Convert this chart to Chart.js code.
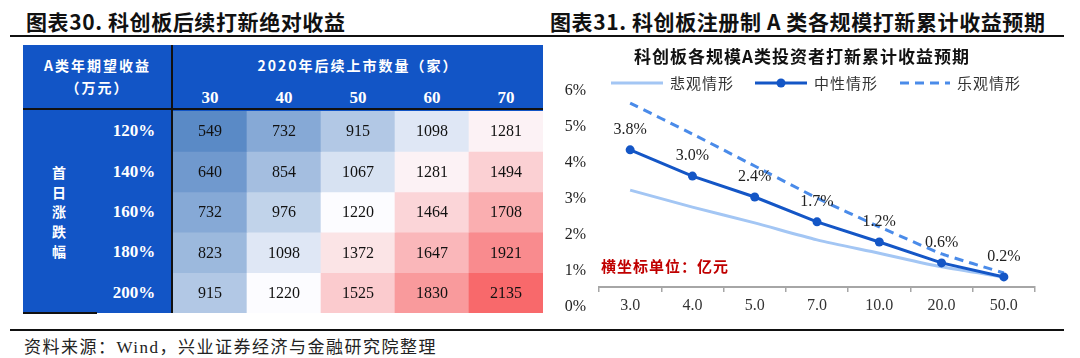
<!DOCTYPE html>
<html>
<head>
<meta charset="utf-8">
<script src="https://cdn.jsdelivr.net/npm/chart.js@4/dist/chart.umd.min.js"></script>
<style>
  body { margin: 0; background: #fff; }
  #page { position: relative; width: 1080px; height: 358px; overflow: hidden; background: #fff;
          font-family: "Liberation Serif", "Noto Sans CJK SC", serif; color: #222; }
  .abs { position: absolute; white-space: nowrap; }
  .title { font-family: "Noto Sans CJK SC", sans-serif; font-weight: 700; font-size: 21px; color: #111; top: 6px; letter-spacing: 0.6px; }
  .rule { position: absolute; left: 10px; width: 1054px; height: 2px; background: #111; }
  .blk { position: absolute; background: #111; }
  .hdr { color: #fff; font-family: "Noto Sans CJK SC", sans-serif; font-weight: 700; font-size: 14px; letter-spacing: 2px; text-align: center; }
  .num { color: #fff; font-family: "Liberation Serif", serif; font-weight: 700; font-size: 17px; transform: translate(-50%, -50%); }
  #foot { left: 24px; top: 333px; font-size: 17px; letter-spacing: 1.5px; color: #222; }
</style>
</head>
<body>
<div id="page">
  <div class="abs title" style="left:26px">图表30. 科创板后续打新绝对收益</div>
  <div class="abs title" style="left:550px">图表31. 科创板注册制 A 类各规模打新累计收益预期</div>
  <div class="rule" style="top:35px"></div>

  <div class="abs" style="left:23px;top:45px;width:520px;height:268px;background:#1255C6"></div>
  <div class="abs hdr" style="left:23px;top:54px;width:149px;line-height:22px">A类年期望收益<br>（万元）</div>
  <div class="abs hdr" style="left:173px;top:54px;width:370px;line-height:22px">2020年后续上市数量（家）</div>
  <div id="colHead"></div>
  <div id="rowHead"></div>
  <div class="abs hdr" style="left:48px;top:163px;width:22px;line-height:19.7px;letter-spacing:0">首<br>日<br>涨<br>跌<br>幅</div>
  <canvas id="heat" class="abs" width="370" height="202" style="left:173px;top:111px"></canvas>
  <div class="blk" style="left:23px;top:108px;width:520px;height:2px"></div>
  <div class="blk" style="left:171px;top:45px;width:2px;height:268px"></div>
  <div class="blk" style="left:23px;top:312px;width:74px;height:2px"></div>

  <canvas id="lines" class="abs" width="535" height="330" style="left:545px;top:0px"></canvas>

  <div class="rule" style="top:329px"></div>
  <div id="foot" class="abs">资料来源：Wind，兴业证券经济与金融研究院整理</div>
</div>
<script>
// 图表30：首日涨跌幅 x 2020年后续上市数量
const listings = ['30', '40', '50', '60', '70'];
const firstDayRise = ['120%', '140%', '160%', '180%', '200%'];
const row120 = [549, 732, 915, 1098, 1281];
const row140 = [640, 854, 1067, 1281, 1494];
const row160 = [732, 976, 1220, 1464, 1708];
const row180 = [823, 1098, 1372, 1647, 1921];
const row200 = [915, 1220, 1525, 1830, 2135];
const rows = [row120, row140, row160, row180, row200];

// 图表31：各规模A类投资者打新累计收益预期
const sizes = ['3.0', '4.0', '5.0', '7.0', '10.0', '20.0', '50.0'];
const seriesNames = ['悲观情形', '中性情形', '乐观情形'];
const pessimistic = [2.69, 2.22, 1.78, 1.31, 0.94, 0.56, 0.28];
const neutral = [3.81, 3.08, 2.50, 1.81, 1.25, 0.67, 0.28];
const optimistic = [5.11, 4.25, 3.36, 2.47, 1.67, 0.92, 0.39];
const neutralLabels = ['3.8%', '3.0%', '2.4%', '1.7%', '1.2%', '0.6%', '0.2%'];

// header text for the table
const colHead = document.getElementById('colHead');
listings.forEach((t, i) => {
  const d = document.createElement('div');
  d.className = 'abs num';
  d.style.left = (173 + 37 + i * 74) + 'px';
  d.style.top = '98px';
  d.textContent = t;
  colHead.append(d);
});
const rowHead = document.getElementById('rowHead');
firstDayRise.forEach((t, i) => {
  const d = document.createElement('div');
  d.className = 'abs num';
  d.style.left = '134px';
  d.style.top = (111 + 20.2 + i * 40.4) + 'px';
  d.textContent = t;
  rowHead.append(d);
});

// excel style 3-colour scale: blue - white (median) - red
const all = rows.flat().slice().sort((a, b) => a - b);
const vMin = all[0], vMax = all[all.length - 1], vMid = all[Math.floor(all.length / 2)];
const blue = [90, 138, 198], white = [252, 252, 255], red = [248, 105, 107];
function mix(a, b, t) {
  return 'rgb(' + a.map((c, k) => Math.round(c + (b[k] - c) * t)).join(',') + ')';
}
function cellColor(v) {
  if (v <= vMid) return mix(blue, white, (v - vMin) / (vMid - vMin));
  return mix(white, red, (v - vMid) / (vMax - vMid));
}

const cellText = {
  id: 'cellText',
  afterDatasetsDraw(chart) {
    const ctx = chart.ctx;
    ctx.save();
    ctx.font = '16px "Liberation Serif"';
    ctx.fillStyle = '#111';
    ctx.textAlign = 'center';
    ctx.textBaseline = 'middle';
    chart.data.datasets.forEach((ds, di) => {
      chart.getDatasetMeta(di).data.forEach((el, i) => {
        ctx.fillText(String(rows[di][i]), el.x, (el.y + el.base) / 2 + 1);
      });
    });
    ctx.restore();
  }
};

new Chart(document.getElementById('heat'), {
  type: 'bar',
  data: {
    labels: listings,
    datasets: rows.map((vals, r) => ({
      label: firstDayRise[r],
      data: vals.map(() => [r, r + 1]),
      backgroundColor: vals.map(cellColor),
      borderWidth: 0,
      grouped: false,
      barPercentage: 1,
      categoryPercentage: 1
    }))
  },
  options: {
    responsive: false,
    animation: false,
    devicePixelRatio: 1,
    layout: { padding: 0 },
    plugins: { legend: { display: false }, tooltip: { enabled: false } },
    scales: {
      x: { display: false },
      y: { display: false, min: 0, max: 5, reverse: true }
    }
  },
  plugins: [cellText]
});

// title, legend, unit note and point labels for the line chart
const lineDecor = {
  id: 'lineDecor',
  afterDraw(chart) {
    const ctx = chart.ctx;
    ctx.save();
    ctx.fillStyle = '#111';
    ctx.textAlign = 'center';
    ctx.textBaseline = 'middle';
    ctx.font = 'bold 17px "Noto Sans CJK SC"';
    ctx.letterSpacing = '1px';
    ctx.fillText('科创板各规模A类投资者打新累计收益预期', 257, 57);

    // legend
    const items = [[66, 118], [210, 262], [355, 405]];
    chart.data.datasets.forEach((ds, i) => {
      const [x0, x1] = items[i];
      ctx.strokeStyle = ds.borderColor;
      ctx.lineWidth = ds.borderWidth;
      ctx.setLineDash(ds.borderDash || []);
      ctx.beginPath();
      ctx.moveTo(x0, 83);
      ctx.lineTo(x1, 83);
      ctx.stroke();
      ctx.setLineDash([]);
      if (ds.pointRadius) {
        ctx.fillStyle = ds.borderColor;
        ctx.beginPath();
        ctx.arc((x0 + x1) / 2, 83, ds.pointRadius, 0, Math.PI * 2);
        ctx.fill();
      }
      ctx.fillStyle = '#333';
      ctx.textAlign = 'left';
      ctx.font = '15px "Noto Sans CJK SC"';
      ctx.letterSpacing = '1px';
      ctx.fillText(ds.label, x1 + 7, 83);
    });

    ctx.fillStyle = '#C00000';
    ctx.font = 'bold 15px "Noto Sans CJK SC"';
    ctx.letterSpacing = '1px';
    ctx.fillText('横坐标单位：亿元', 56, 266);

    // labels over the neutral line
    ctx.letterSpacing = '0px';
    ctx.fillStyle = '#222';
    ctx.textAlign = 'center';
    ctx.font = '16px "Liberation Serif"';
    chart.getDatasetMeta(1).data.forEach((pt, i) => {
      ctx.fillText(neutralLabels[i], pt.x, pt.y - 20);
    });
    ctx.restore();
  }
};

const tickFont = { family: 'Liberation Serif', size: 16 };

new Chart(document.getElementById('lines'), {
  type: 'line',
  data: {
    labels: sizes,
    datasets: [
      { label: seriesNames[0], data: pessimistic, borderColor: '#A3C6F4', borderWidth: 3,
        pointRadius: 0, tension: 0.25, order: 2 },
      { label: seriesNames[1], data: neutral, borderColor: '#1456C6', backgroundColor: '#1456C6',
        borderWidth: 3, pointRadius: 4.5, pointBorderWidth: 0, tension: 0, order: 0 },
      { label: seriesNames[2], data: optimistic, borderColor: '#4A8BE9', borderWidth: 3,
        borderDash: [9, 6], pointRadius: 0, tension: 0.1, order: 1 }
    ]
  },
  options: {
    responsive: false,
    animation: false,
    devicePixelRatio: 1,
    layout: { padding: { top: 71, right: 45, left: 0, bottom: 0 } },
    plugins: { legend: { display: false }, title: { display: false }, tooltip: { enabled: false } },
    scales: {
      x: {
        offset: true,
        grid: { offset: true, drawOnChartArea: false, drawTicks: true, tickLength: 5, color: '#A6A6A6', lineWidth: 1.5 },
        border: { display: true, color: '#A6A6A6', width: 2 },
        ticks: { font: tickFont, color: '#333', padding: 4 },
        afterFit(s) { s.height = 43; }
      },
      y: {
        min: 0,
        max: 6,
        border: { display: false },
        grid: { display: false, drawTicks: false },
        ticks: { stepSize: 1, autoSkip: false, labelOffset: 20, padding: 13, font: tickFont, color: '#222',
                 callback: v => v + '%' },
        afterFit(s) { s.width = 54; }
      }
    }
  },
  plugins: [lineDecor]
});
</script>
</body>
</html>
